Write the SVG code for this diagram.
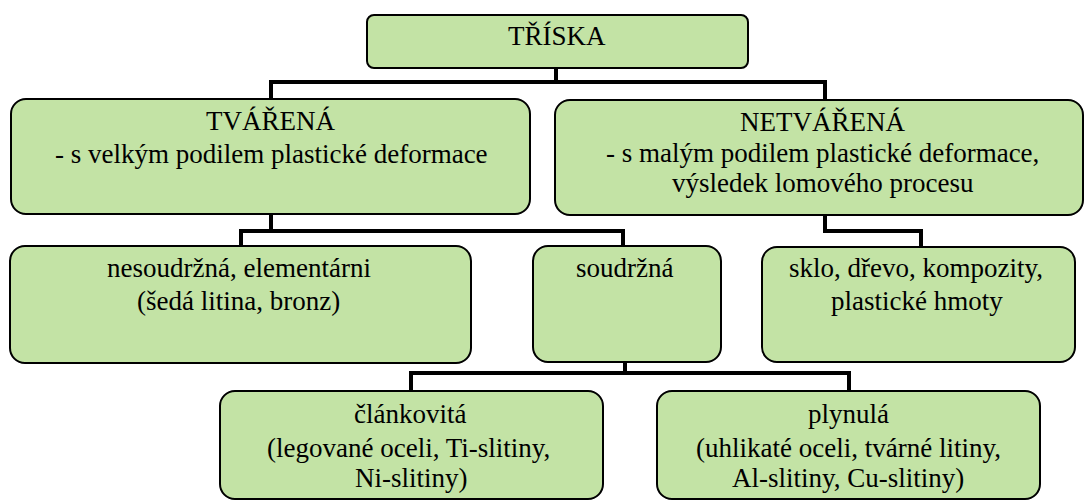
<svg xmlns="http://www.w3.org/2000/svg" width="1085" height="501" viewBox="0 0 1085 501">
<rect width="1085" height="501" fill="#fff"/>
<g id="connectors" fill="none" stroke="#000" stroke-width="4">
<path d="M556,68 V82 H271 V99 M556,82 H825 V100"/>
<path d="M271,214 V231 H241 V246 M271,231 H623 V246"/>
<path d="M825,215 V231 H921 V247"/>
<path d="M625,362 V373 H411 V391 M625,373 H849 V391"/>
</g>
<g id="triska">
<rect x="367" y="15" width="381" height="53" rx="7" fill="#c3e3a5" stroke="#000" stroke-width="2"/>
<text x="508" y="45" font-size="27" font-family="Liberation Serif">TŘÍSKA</text>
</g>
<g id="tvarena">
<rect x="11" y="99" width="519" height="115" rx="15" fill="#c3e3a5" stroke="#000" stroke-width="2"/>
<text x="206" y="130" font-size="27" font-family="Liberation Serif">TVÁŘENÁ</text>
<text x="55" y="163" font-size="27" font-family="Liberation Serif">- s velkým podilem plastické deformace</text>
</g>
<g id="netvarena">
<rect x="555" y="100" width="528" height="115" rx="15" fill="#c3e3a5" stroke="#000" stroke-width="2"/>
<text x="740" y="131" font-size="27" font-family="Liberation Serif">NETVÁŘENÁ</text>
<text x="606" y="162" font-size="27" font-family="Liberation Serif">- s malým podilem plastické deformace,</text>
<text x="672" y="192" font-size="27" font-family="Liberation Serif">výsledek lomového procesu</text>
</g>
<g id="nesoudrzna">
<rect x="10" y="246" width="461" height="117" rx="15" fill="#c3e3a5" stroke="#000" stroke-width="2"/>
<text x="107" y="277" font-size="27" font-family="Liberation Serif">nesoudržná, elementárni</text>
<text x="137" y="310" font-size="27" font-family="Liberation Serif">(šedá litina, bronz)</text>
</g>
<g id="soudrzna">
<rect x="533" y="246" width="188" height="116" rx="15" fill="#c3e3a5" stroke="#000" stroke-width="2"/>
<text x="576" y="277" font-size="27" font-family="Liberation Serif">soudržná</text>
</g>
<g id="sklo">
<rect x="762" y="247" width="313" height="115" rx="15" fill="#c3e3a5" stroke="#000" stroke-width="2"/>
<text x="789" y="277" font-size="27" font-family="Liberation Serif">sklo, dřevo, kompozity,</text>
<text x="831" y="310" font-size="27" font-family="Liberation Serif">plastické hmoty</text>
</g>
<g id="clankovita">
<rect x="220" y="391" width="383" height="108" rx="15" fill="#c3e3a5" stroke="#000" stroke-width="2"/>
<text x="354" y="423" font-size="27" font-family="Liberation Serif">článkovitá</text>
<text x="267" y="457" font-size="27" font-family="Liberation Serif">(legované oceli, Ti-slitiny,</text>
<text x="355" y="487" font-size="27" font-family="Liberation Serif">Ni-slitiny)</text>
</g>
<g id="plynula">
<rect x="657" y="391" width="383" height="108" rx="15" fill="#c3e3a5" stroke="#000" stroke-width="2"/>
<text x="808" y="423" font-size="27" font-family="Liberation Serif">plynulá</text>
<text x="696" y="457" font-size="27" font-family="Liberation Serif">(uhlikaté oceli, tvárné litiny,</text>
<text x="732" y="487" font-size="27" font-family="Liberation Serif">Al-slitiny, Cu-slitiny)</text>
</g>
</svg>
